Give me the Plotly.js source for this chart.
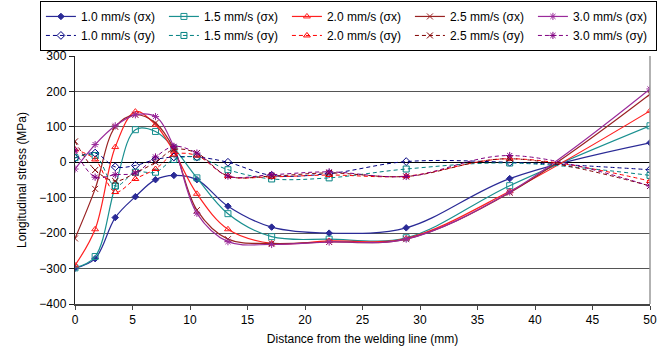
<!DOCTYPE html>
<html>
<head>
<meta charset="utf-8">
<script src="https://cdn.plot.ly/plotly-3.0.1.min.js"></script>
<style>
  html, body { margin: 0; padding: 0; background: #fff; }
  #chart { width: 670px; height: 356px; }
</style>
</head>
<body>
<div id="chart"></div>
<script>
// Measurement positions (mm from the welding line)
const distance = [0, 1.75, 3.5, 5.25, 7, 8.6, 10.6, 13.3, 17.1, 22.1, 28.8, 37.8, 50];

// Longitudinal stress sigma_x (MPa) per welding speed
const sx10 = [-299, -272, -156, -97, -49, -37, -49, -124, -183, -200, -185, -46, 55];
const sx15 = [-298, -266, -67, 92, 87, 40, -44, -145, -210, -217, -213, -66, 103];
const sx20 = [-291, -189, 43, 143, 106, 30, -89, -189, -229, -222, -215, -82, 145];
const sx25 = [-215, -75, 100, 134, 111, 38, -135, -217, -229, -225, -217, -86, 192];
const sx30 = [-19, 50, 103, 134, 129, 43, -144, -224, -232, -225, -217, -84, 207];

// Transverse stress sigma_y (MPa) per welding speed
const sy10 = [12, 26, -13, -9, 8, 15, 15, 0, -37, -32, 2, 0, -21];
const sy15 = [13, 19, -67, -28, -28, 8, 15, -21, -47, -44, -19, -2, -37];
const sy20 = [36, 8, -84, -47, -19, 22, 19, -39, -41, -36, -39, 10, -53];
const sy25 = [59, -22, -53, -30, 0, 36, 26, -39, -39, -30, -40, 10, -67];
const sy30 = [34, -42, -35, -30, 15, 45, 26, -39, -35, -27, -40, 19, -67];

const speeds = ['1.0', '1.5', '2.0', '2.5', '3.0'];
const sxSets = [sx10, sx15, sx20, sx25, sx30];
const sySets = [sy10, sy15, sy20, sy25, sy30];

const sxColors = ['#2a2a96', '#1a9090', '#ff2020', '#992222', '#9a2a9a'];
const syColors = ['#000080', '#008080', '#ff0000', '#800000', '#800080'];
const symbols = ['diamond', 'square-open', 'triangle-up-open', 'x-thin-open', 'asterisk-open'];
const syDiamond = 'diamond-open';

const traces = [];
// Legend order: row of sigma_x, then row of sigma_y
speeds.forEach((s, i) => {
  traces.push({
    x: distance, y: sxSets[i], type: 'scatter', mode: 'lines+markers',
    name: s + ' mm/s (σx)',
    line: { color: sxColors[i], width: 1.2, shape: 'spline', smoothing: 1 },
    marker: { symbol: symbols[i], size: i === 0 ? 5 : 6, color: sxColors[i],
              line: { color: sxColors[i], width: 1 } }
  });
});
speeds.forEach((s, i) => {
  traces.push({
    x: distance, y: sySets[i], type: 'scatter', mode: 'lines+markers',
    name: s + ' mm/s (σy)',
    line: { color: syColors[i], width: 1, dash: '4px,3px', shape: 'spline', smoothing: 1 },
    marker: { symbol: i === 0 ? syDiamond : symbols[i], size: 6, color: syColors[i],
              line: { color: syColors[i], width: 1 } }
  });
});

const font = { family: '"Liberation Sans", Arial, sans-serif', size: 12, color: '#000' };

const layout = {
  width: 670, height: 356,
  margin: { l: 75, r: 20, t: 56, b: 52, autoexpand: false },
  paper_bgcolor: '#fff', plot_bgcolor: '#fff',
  font: font,
  showlegend: true,
  legend: {
    orientation: 'h', x: -0.061, y: 1.222, xanchor: 'left', yanchor: 'top',
    bordercolor: '#000', borderwidth: 1, bgcolor: '#fff',
    entrywidth: 78, entrywidthmode: 'pixels',
    itemwidth: 30, tracegroupgap: 0,
    font: { family: font.family, size: 12, color: '#000' }
  },
  xaxis: {
    range: [0, 50], dtick: 5, tick0: 0,
    showgrid: false, zeroline: false,
    showline: true, linecolor: '#444', linewidth: 1.5,
    ticks: 'outside', ticklen: 4, tickcolor: '#444',
    tickfont: font,
    title: { text: 'Distance from the welding line (mm)', font: font, standoff: 8 }
  },
  yaxis: {
    range: [-400, 300], dtick: 100, tick0: 0,
    showgrid: true, gridcolor: '#555', gridwidth: 1,
    zeroline: true, zerolinecolor: '#000', zerolinewidth: 1.2,
    showline: true, linecolor: '#222', linewidth: 1.2,
    ticks: 'outside', ticklen: 5, tickcolor: '#222',
    tickfont: font,
    title: { text: 'Longitudinal stress (MPa)', font: font, standoff: 10 }
  },
  shapes: [
    { type: 'line', xref: 'paper', yref: 'paper', x0: 1, x1: 1, y0: 0, y1: 1,
      line: { color: '#999', width: 1.5 } }
  ]
};

Plotly.newPlot('chart', traces, layout, { displayModeBar: false, staticPlot: true });
</script>
</body>
</html>
